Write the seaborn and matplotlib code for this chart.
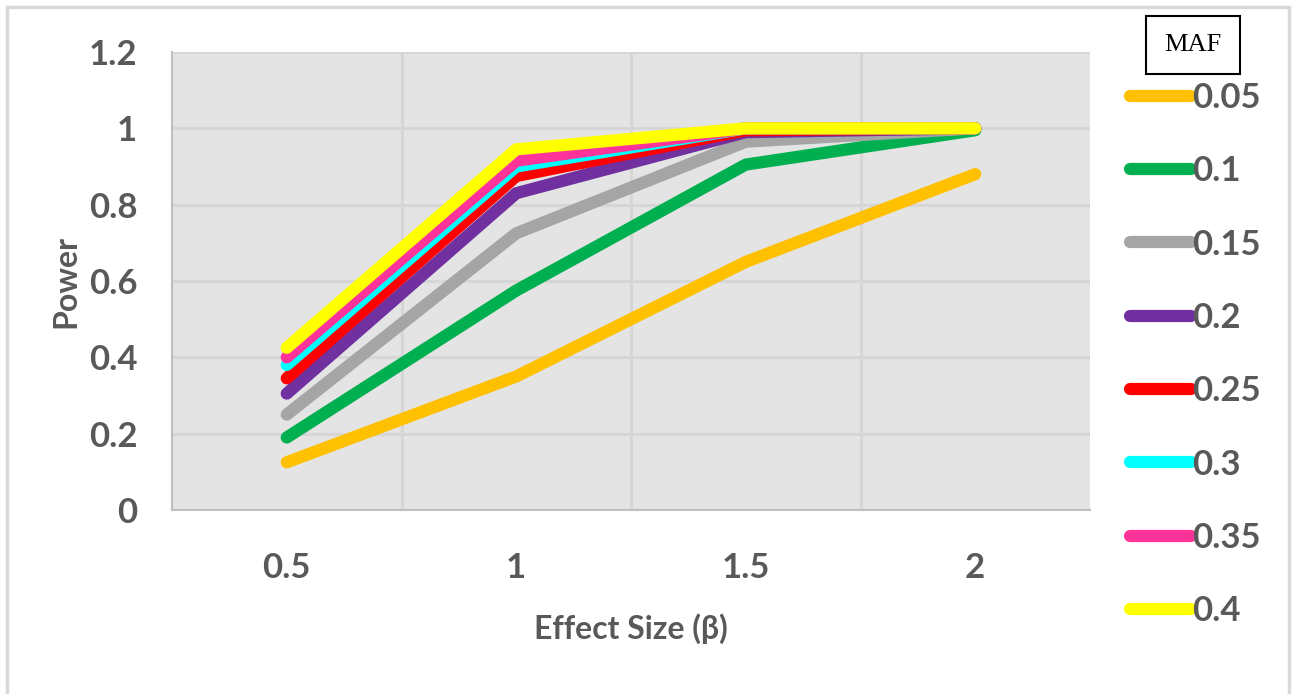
import matplotlib
matplotlib.use("Agg")
import matplotlib.pyplot as plt
import seaborn as sns
import pandas as pd
from matplotlib.patches import Rectangle
from matplotlib.lines import Line2D
from matplotlib.legend_handler import HandlerLine2D
from matplotlib.ticker import FixedLocator

effect_sizes = [0.5, 1.0, 1.5, 2.0]
maf_labels = ["0.05", "0.1", "0.15", "0.2", "0.25", "0.3", "0.35", "0.4"]
power_005 = [0.125, 0.35, 0.65, 0.88]
power_010 = [0.19, 0.575, 0.905, 0.995]
power_015 = [0.25, 0.725, 0.965, 1.0]
power_020 = [0.305, 0.83, 0.99, 1.0]
power_025 = [0.345, 0.875, 0.995, 1.0]
power_030 = [0.38, 0.90, 1.0, 1.0]
power_035 = [0.40, 0.915, 1.0, 1.0]
power_040 = [0.425, 0.945, 1.0, 1.0]
series = [power_005, power_010, power_015, power_020,
          power_025, power_030, power_035, power_040]
colors = ["#FFC000", "#00B050", "#A5A5A5", "#7030A0",
          "#FF0000", "#00FFFF", "#FF3399", "#FFFF00"]
y_ticks = [0, 0.2, 0.4, 0.6, 0.8, 1.0, 1.2]
y_tick_labels = ["0", "0.2", "0.4", "0.6", "0.8", "1", "1.2"]
x_tick_labels = ["0.5", "1", "1.5", "2"]

rows = []
for lab, vals in zip(maf_labels, series):
    for x, v in zip(effect_sizes, vals):
        rows.append({"Effect": x, "Power": v, "MAF": lab})
df = pd.DataFrame(rows)

sns.set_theme(style="white")
plt.rcParams["font.family"] = ["Lato", "DejaVu Sans"]
plt.rcParams["font.weight"] = "bold"
plt.rcParams["lines.solid_capstyle"] = "round"

grey_txt = "#595959"
fig = plt.figure(figsize=(12.96, 6.94), dpi=100)
ax = fig.add_axes([172/1296, 1 - 510/694, (1090-172)/1296, (510-52)/694])
ax.set_facecolor("#E4E4E4")

sns.lineplot(data=df, x="Effect", y="Power", hue="MAF", hue_order=maf_labels,
             palette=colors, linewidth=8.8, ax=ax, legend=True,
             solid_capstyle="round", solid_joinstyle="round")

ax.set_xlim(0.25, 2.25)
ax.set_ylim(0, 1.2)
ax.set_yticks(y_ticks)
ax.set_yticklabels(y_tick_labels)
ax.set_xticks(effect_sizes)
ax.set_xticklabels(x_tick_labels)
ax.xaxis.set_minor_locator(FixedLocator([0.75, 1.25, 1.75]))
ax.grid(False)
ax.grid(True, axis="y", which="major", color="#D6D6D6", linewidth=2.2)
ax.grid(True, axis="x", which="minor", color="#D6D6D6", linewidth=2.2)
ax.set_axisbelow(True)
ax.tick_params(axis="both", which="both", length=0, labelsize=25, labelcolor=grey_txt)
ax.tick_params(axis="y", pad=25)
ax.tick_params(axis="x", pad=30)
for lab in ax.get_xticklabels() + ax.get_yticklabels():
    lab.set_fontweight("bold")

for s in ["top", "right"]:
    ax.spines[s].set_visible(False)
for s in ["left", "bottom"]:
    ax.spines[s].set_color("#BFBFBF")
    ax.spines[s].set_linewidth(1.5)

ax.set_xlabel("Effect Size (β)", fontsize=23, color=grey_txt, fontweight="bold", labelpad=21)
ax.set_ylabel("Power", fontsize=23, color=grey_txt, fontweight="bold", labelpad=6)


def _round_caps(legend_line, orig_handle):
    legend_line.update_from(orig_handle)
    legend_line.set_solid_capstyle("round")
    legend_line.set_linewidth(8.8)


handles, labels = ax.get_legend_handles_labels()
leg = ax.legend(handles, labels, loc="upper left", bbox_to_anchor=(1130/1296, 1 - 82/694),
                bbox_transform=fig.transFigure, frameon=False, fontsize=25,
                handlelength=1.75, handletextpad=0.05, labelspacing=1.19,
                borderaxespad=0, borderpad=0,
                handler_map={Line2D: HandlerLine2D(update_func=_round_caps)})
for t in leg.get_texts():
    t.set_color(grey_txt)
    t.set_fontweight("bold")

fig.text(1193/1296, 1 - 45/694, "MAF", ha="center", va="center", fontsize=19,
         family=["Liberation Serif", "DejaVu Serif"], fontweight="normal", color="black",
         bbox=dict(boxstyle="square,pad=0.68", facecolor="white", edgecolor="black", linewidth=1.5))

fig.patches.append(Rectangle((7/1296, -0.05), (1289-7)/1296, 1.05 - 7/694,
                             transform=fig.transFigure, fill=False,
                             edgecolor="#D9D9D9", linewidth=2.5, zorder=0))

fig.savefig("out.png", dpi=100)
